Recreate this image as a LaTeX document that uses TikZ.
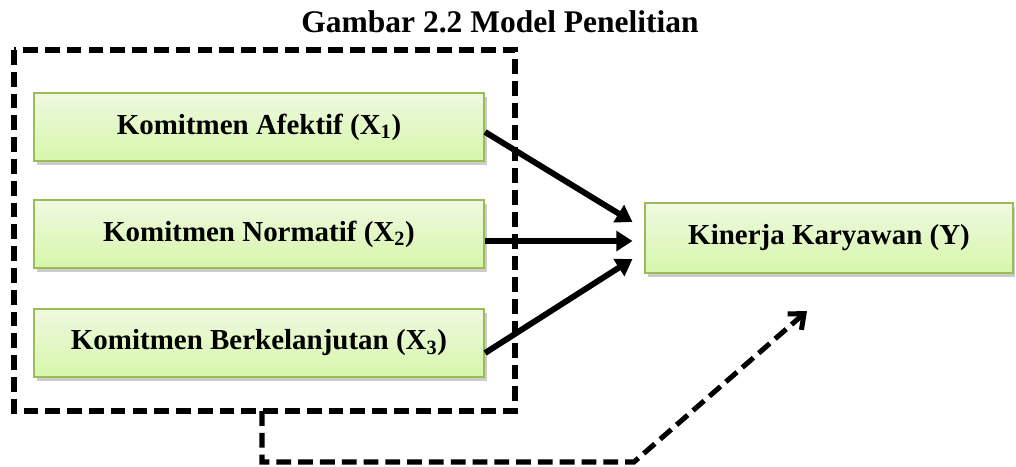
\documentclass[tikz,border=0pt]{standalone}
\usepackage{fontspec}
\setmainfont{Liberation Serif}
\usetikzlibrary{arrows.meta,calc,shadows}
\definecolor{kotakgaris}{RGB}{155,187,89}
\definecolor{kotakatas}{RGB}{239,249,224}
\definecolor{kotakbawah}{RGB}{214,246,170}
\tikzset{
    kotak/.style={draw=kotakgaris,line width=1.4pt,top color=kotakatas,bottom color=kotakbawah,
      drop shadow={shadow xshift=2pt,shadow yshift=-2.5pt,fill=black!40,opacity=0.5},
      font=\fontsize{20.6}{24}\selectfont\bfseries,minimum height=1.7cm},
    panah/.style={line width=4.2pt,-{Triangle[length=11.5pt,width=14pt]}},
    putus/.style={line width=3.6pt,dash pattern=on 10.5pt off 5pt},
  }
\begin{document}
\begin{tikzpicture}[x=0.025cm,y=-0.025cm]
				  \useasboundingbox (0,0) rectangle (1016,466);
				  %JUDUL
				  \node[font=\fontsize{22.4}{26}\selectfont\bfseries] (judul) at (500,22) {Gambar 2.2 Model Penelitian};
				  %KOTAK X1, X2, X3
				  \node[kotak,minimum width=11.25cm] (X1) at (259,127) {Komitmen Afektif (X\textsubscript{1})};
				  \node[kotak,minimum width=11.25cm] (X2) at (259,234) {Komitmen Normatif (X\textsubscript{2})};
				  \node[kotak,minimum width=11.25cm] (X3) at (259,343) {Komitmen Berkelanjutan (X\textsubscript{3})};
				  %KOTAK Y
				  \node[kotak,minimum width=9.175cm,minimum height=1.75cm] (Y) at (829,238) {Kinerja Karyawan (Y)};
				  %BINGKAI PUTUS-PUTUS
				  \coordinate (bingkaiA) at (14,50);
				  \coordinate (bingkaiB) at (515,411);
				  \draw[putus] (bingkaiA) rectangle (bingkaiB);
				  %PANAH X -> Y
				  \draw[panah] ($(X1.east)+(0,5)$) -- ($(Y.west)+(-12,-16)$);
				  \draw[panah] ($(X2.east)+(0,7)$) -- ($(Y.west)+(-12,3)$);
				  \draw[panah] ($(X3.east)+(0,10)$) -- ($(Y.west)+(-12,21)$);
				  %PANAH SIMULTAN
				  \coordinate (bawah) at (262,411);
				  \coordinate (ujung) at (807,311);
				  \draw[putus,-{Straight Barb[length=9pt,width=15pt,line width=3.6pt]}] (bawah) |- (634,462) -- (ujung);
				  \end{tikzpicture}
\end{document}
